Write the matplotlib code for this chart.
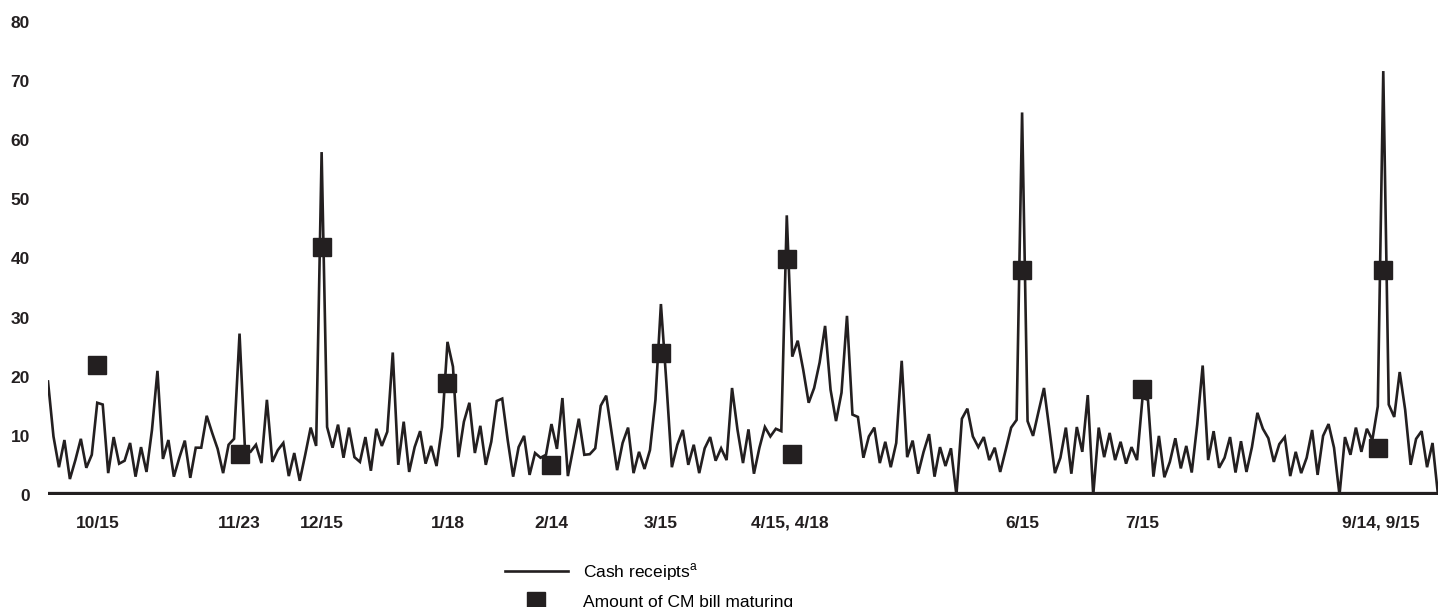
import matplotlib.pyplot as plt
from matplotlib.lines import Line2D
import numpy as np

plt.rcParams['font.family'] = ['Liberation Sans', 'DejaVu Sans']
plt.rcParams['mathtext.fontset'] = 'custom'
plt.rcParams['mathtext.rm'] = 'Liberation Sans'

# daily cash receipts, one value per business day (Oct .. Sep)
receipts = [
    19.2, 9.9, 4.7, 9.3, 2.7, 5.9, 9.5, 4.6, 6.8, 15.6,
    15.3, 3.7, 9.8, 5.3, 5.8, 8.8, 3.1, 8.1, 3.9, 11.0,
    21.0, 6.1, 9.3, 3.1, 6.3, 9.2, 2.9, 8.0, 8.0, 13.4,
    10.5, 7.8, 3.7, 8.5, 9.5, 27.3, 7.6, 7.3, 8.5, 5.4,
    16.1, 5.6, 7.6, 8.8, 3.2, 7.1, 2.4, 6.8, 11.4, 8.3,
    58.0, 11.5, 8.0, 11.9, 6.3, 11.4, 6.4, 5.6, 9.8, 4.1,
    11.2, 8.3, 10.7, 24.1, 5.1, 12.4, 3.9, 8.1, 10.8, 5.3,
    8.3, 4.9, 11.5, 25.9, 21.7, 6.4, 12.4, 15.6, 7.1, 11.7,
    5.1, 9.0, 15.9, 16.3, 9.3, 3.1, 8.1, 10.0, 3.4, 7.1,
    6.3, 6.8, 12.0, 7.8, 16.4, 3.2, 8.0, 12.9, 6.8, 6.9,
    7.9, 15.1, 16.8, 10.5, 4.2, 8.8, 11.4, 3.7, 7.3, 4.4,
    7.6, 16.1, 32.3, 19.0, 4.7, 8.5, 11.0, 5.1, 8.5, 3.7,
    7.9, 9.8, 5.8, 7.9, 5.9, 18.1, 11.0, 5.4, 11.1, 3.6,
    8.0, 11.5, 9.9, 11.2, 10.8, 47.3, 23.4, 26.1, 21.2, 15.6,
    18.1, 22.4, 28.6, 17.8, 12.5, 17.3, 30.3, 13.6, 13.2, 6.3,
    9.9, 11.4, 5.4, 9.0, 4.7, 8.8, 22.7, 6.4, 9.2, 3.6,
    7.3, 10.3, 3.1, 8.1, 4.9, 7.9, 0.0, 12.9, 14.6, 9.9,
    8.1, 9.8, 5.9, 8.0, 3.9, 7.6, 11.4, 12.7, 64.7, 12.5,
    10.0, 14.1, 18.1, 11.0, 3.7, 6.3, 11.4, 3.6, 11.5, 7.3,
    16.9, 0.0, 11.4, 6.4, 10.5, 5.9, 9.0, 5.3, 8.1, 5.9,
    16.4, 16.1, 3.1, 10.0, 3.0, 5.6, 9.6, 4.5, 8.3, 3.8,
    11.9, 21.9, 5.9, 10.8, 4.6, 6.3, 9.8, 3.8, 9.1, 3.9,
    8.1, 13.9, 11.2, 9.6, 5.6, 8.6, 9.8, 3.2, 7.3, 3.7,
    6.3, 11.0, 3.4, 10.0, 12.0, 8.0, 0.0, 9.8, 6.8, 11.4,
    7.3, 11.2, 9.3, 15.0, 71.7, 15.3, 13.2, 20.8, 14.4, 5.1,
    9.5, 10.8, 4.7, 8.8, 0.0,
]

# CM bill maturities: business-day index and amount
cm_days = [9, 35, 50, 73, 92, 112, 135, 136, 178, 200, 243, 244]
cm_amounts = [22, 7, 42, 19, 5, 24, 40, 7, 38, 18, 8, 38]

tick_days = [9, 35, 50, 73, 92, 112, 135.5, 178, 200, 243.5]
tick_labels = ['10/15', '11/23', '12/15', '1/18', '2/14', '3/15',
               '4/15, 4/18', '6/15', '7/15', '9/14, 9/15']

ink = '#231f20'

fig = plt.figure(figsize=(14.39, 6.07), dpi=100)
ax = fig.add_axes([48 / 1439, 112 / 607, 1390 / 1439, 473 / 607])

days = np.arange(len(receipts))
ax.plot(days, receipts, color=ink, lw=1.9, solid_joinstyle='miter')
ax.plot(cm_days, cm_amounts, ls='none', marker='s', ms=12.5, color=ink)
ax.axhline(0, color=ink, lw=4.5, solid_capstyle='butt')

ax.set_xlim(0, len(receipts) - 1)
ax.set_ylim(0, 80)
ax.set_yticks(range(0, 81, 10))
ax.set_xticks(tick_days)
ax.set_xticklabels(tick_labels)
for s in ax.spines.values():
    s.set_visible(False)
ax.tick_params(axis='both', length=0, labelsize=12.5, colors=ink)
ax.tick_params(axis='y', pad=13)
ax.tick_params(axis='x', pad=15)
for lab in ax.get_xticklabels() + ax.get_yticklabels():
    lab.set_fontweight('bold')

handles = [
    Line2D([], [], color=ink, lw=1.9),
    Line2D([], [], ls='none', marker='s', ms=12.5, color=ink),
]
fig.legend(handles, ['Cash receipts$^{\\mathrm{a}}$', 'Amount of CM bill maturing'],
           loc='center left', bbox_to_anchor=(505 / 1439, 21.5 / 607),
           frameon=False, fontsize=12.5, handlelength=3.6, handletextpad=0.92,
           labelspacing=0.67, borderpad=0, borderaxespad=0)

fig.savefig('out.png', dpi=100)
